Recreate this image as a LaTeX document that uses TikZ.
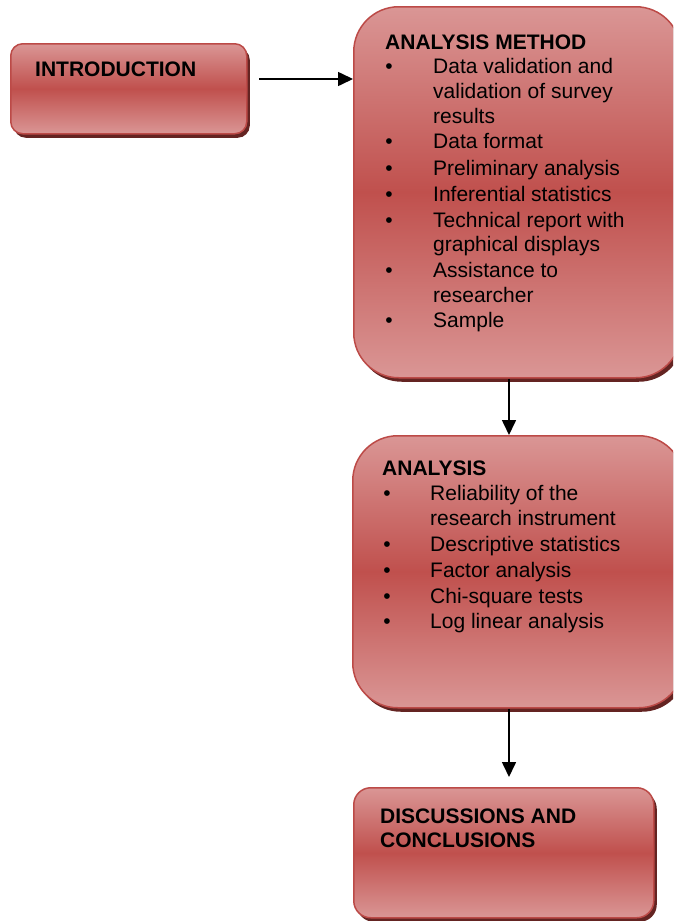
\documentclass[tikz,border=0pt]{standalone}
\usepackage{fontspec}
\setmainfont{Liberation Sans}
\usetikzlibrary{arrows.meta,shadows}

\definecolor{boxlight}{RGB}{218,150,149}
\definecolor{boxmid}{RGB}{192,80,77}
\definecolor{boxedge}{RGB}{188,74,71}
\definecolor{boxshade}{RGB}{100,36,34}

\tikzset{
  stage/.style={draw=boxedge, line width=1.5pt,
    top color=boxlight, bottom color=boxlight, middle color=boxmid,
    drop shadow={shadow xshift=3pt, shadow yshift=-4pt, fill=boxshade, opacity=1},
    anchor=north west, inner sep=0pt},
  headtxt/.style={font=\fontsize{21}{24}\selectfont\bfseries, anchor=base west, inner sep=0pt},
  itemtxt/.style={font=\fontsize{21}{24}\selectfont, anchor=base west, inner sep=0pt},
  bul/.style={font=\fontsize{21}{24}\selectfont, anchor=base, inner sep=0pt},
  arr/.style={line width=1.6pt, -{Triangle[length=15pt,width=14pt]}},
}

\begin{document}
\begin{tikzpicture}[x=1pt,y=-1pt]
\useasboundingbox (0,0) rectangle (673,921);
\clip (0,0) rectangle (673,921);

% stage boxes
\node[stage, minimum width=236pt, minimum height=90pt, rounded corners=12pt] (intro) at (10,43) {};
\node[stage, minimum width=327pt, minimum height=371pt, rounded corners=45pt] (method) at (353,6) {};
\node[stage, minimum width=331pt, minimum height=272pt, rounded corners=45pt] (analysis) at (352,435) {};
\node[stage, minimum width=300pt, minimum height=130pt, rounded corners=17pt] (disc) at (353,787) {};

% introduction
\node[headtxt] (tintro) at (35,76) {INTRODUCTION};

% analysis method
\node[headtxt] (tmethod) at (385,49) {ANALYSIS METHOD};
\node[bul] (mb1) at (389,73) {•};
\node[itemtxt] (m1a) at (433,73) {Data validation and};
\node[itemtxt] (m1b) at (433,98) {validation of survey};
\node[itemtxt] (m1c) at (433,123) {results};
\node[bul] (mb2) at (389,148) {•};
\node[itemtxt] (m2) at (433,148) {Data format};
\node[bul] (mb3) at (389,175) {•};
\node[itemtxt] (m3) at (433,175) {Preliminary analysis};
\node[bul] (mb4) at (389,201) {•};
\node[itemtxt] (m4) at (433,201) {Inferential statistics};
\node[bul] (mb5) at (389,227) {•};
\node[itemtxt] (m5a) at (433,227) {Technical report with};
\node[itemtxt] (m5b) at (433,251) {graphical displays};
\node[bul] (mb6) at (389,277) {•};
\node[itemtxt] (m6a) at (433,277) {Assistance to};
\node[itemtxt] (m6b) at (433,302) {researcher};
\node[bul] (mb7) at (389,327) {•};
\node[itemtxt] (m7) at (433,327) {Sample};

% analysis
\node[headtxt] (tanalysis) at (382,475) {ANALYSIS};
\node[bul] (ab1) at (387,500) {•};
\node[itemtxt] (a1a) at (430,500) {Reliability of the};
\node[itemtxt] (a1b) at (430,525) {research instrument};
\node[bul] (ab2) at (387,551) {•};
\node[itemtxt] (a2) at (430,551) {Descriptive statistics};
\node[bul] (ab3) at (387,577) {•};
\node[itemtxt] (a3) at (430,577) {Factor analysis};
\node[bul] (ab4) at (387,603) {•};
\node[itemtxt] (a4) at (430,603) {Chi-square tests};
\node[bul] (ab5) at (387,628) {•};
\node[itemtxt] (a5) at (430,628) {Log linear analysis};

% discussions
\node[headtxt] (tdisc1) at (380,823) {DISCUSSIONS AND};
\node[headtxt] (tdisc2) at (380,847) {CONCLUSIONS};

% connectors
\coordinate (start) at (259,79);
\draw[arr] (start) -- (start -| method.west);
\coordinate (spine) at (509,0);
\draw[arr] (spine |- method.south) -- (spine |- analysis.north);
\draw[arr, shorten >=10pt] (spine |- analysis.south) -- (spine |- disc.north);
\end{tikzpicture}
\end{document}
